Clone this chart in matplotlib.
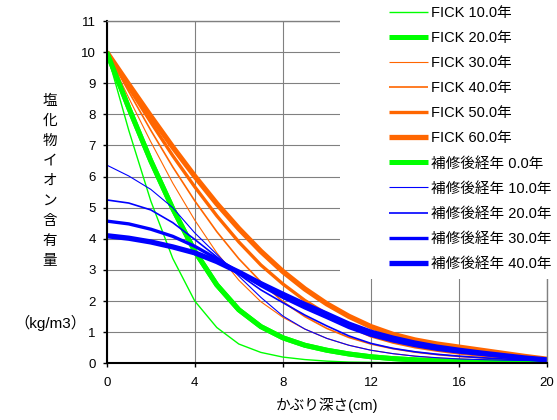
import matplotlib
matplotlib.use("Agg")
import matplotlib.pyplot as plt
from matplotlib.patches import Rectangle

plt.rcParams['font.family'] = ['Liberation Sans', 'Noto Sans CJK JP']

# depth (cm)
depth = list(range(21))

# FICK profiles
fick_10 = [10.0, 7.49, 5.22, 3.37, 2.00, 1.15, 0.62, 0.35, 0.20, 0.12, 0.07,
           0.04, 0.03, 0.02, 0.01, 0.01, 0.01, 0.0, 0.0, 0.0, 0.0]
fick_20 = [10.0, 8.21, 6.51, 4.97, 3.60, 2.52, 1.72, 1.18, 0.82, 0.58, 0.42,
           0.30, 0.21, 0.15, 0.11, 0.08, 0.06, 0.05, 0.04, 0.03, 0.03]
fick_30 = [10.0, 8.53, 7.12, 5.79, 4.60, 3.55, 2.67, 1.98, 1.48, 1.10, 0.80,
           0.58, 0.42, 0.31, 0.23, 0.17, 0.14, 0.11, 0.09, 0.07, 0.06]
fick_40 = [10.0, 8.73, 7.49, 6.31, 5.22, 4.23, 3.36, 2.62, 1.98, 1.50, 1.12,
           0.83, 0.62, 0.47, 0.36, 0.28, 0.22, 0.18, 0.14, 0.11, 0.09]
fick_50 = [10.0, 8.86, 7.75, 6.67, 5.67, 4.74, 3.90, 3.16, 2.55, 2.02, 1.58,
           1.20, 0.88, 0.68, 0.53, 0.42, 0.33, 0.26, 0.20, 0.15, 0.11]
fick_60 = [10.0, 8.96, 7.94, 6.95, 6.01, 5.13, 4.33, 3.60, 2.95, 2.39, 1.91,
           1.51, 1.18, 0.93, 0.75, 0.62, 0.52, 0.42, 0.32, 0.22, 0.13]

# after repair (years)
rep_0 = fick_20
rep_10 = [6.37, 6.02, 5.59, 5.00, 4.19, 3.50, 2.80, 2.12, 1.52, 1.10, 0.80,
          0.58, 0.42, 0.31, 0.23, 0.18, 0.14, 0.12, 0.10, 0.09, 0.08]
rep_20 = [5.25, 5.15, 4.93, 4.52, 3.98, 3.42, 2.86, 2.36, 1.95, 1.55, 1.20,
          0.88, 0.64, 0.48, 0.37, 0.29, 0.23, 0.18, 0.14, 0.11, 0.09]
rep_30 = [4.57, 4.48, 4.31, 4.08, 3.76, 3.36, 2.92, 2.50, 2.12, 1.78, 1.47,
          1.15, 0.90, 0.72, 0.57, 0.45, 0.36, 0.29, 0.22, 0.15, 0.10]
rep_40 = [4.10, 4.02, 3.90, 3.74, 3.55, 3.27, 2.93, 2.56, 2.22, 1.89, 1.58,
          1.26, 1.00, 0.81, 0.65, 0.52, 0.42, 0.33, 0.25, 0.17, 0.11]

GREEN = "#00ff00"
ORANGE = "#ff6600"
BLUE = "#0000ff"

series = [
    ("FICK 10.0年", fick_10, GREEN, 1.0),
    ("FICK 20.0年", fick_20, GREEN, 3.6),
    ("FICK 30.0年", fick_30, ORANGE, 0.8),
    ("FICK 40.0年", fick_40, ORANGE, 1.2),
    ("FICK 50.0年", fick_50, ORANGE, 2.4),
    ("FICK 60.0年", fick_60, ORANGE, 3.8),
    ("補修後経年 0.0年", rep_0, GREEN, 3.6),
    ("補修後経年 10.0年", rep_10, BLUE, 0.8),
    ("補修後経年 20.0年", rep_20, BLUE, 1.2),
    ("補修後経年 30.0年", rep_30, BLUE, 2.4),
    ("補修後経年 40.0年", rep_40, BLUE, 3.8),
]

fig = plt.figure(figsize=(5.57, 4.2), dpi=100)
ax = fig.add_axes([0.1916, 0.135, 0.7905, 0.815])

for label, vals, color, lw in series:
    ax.plot(depth, vals, color=color, linewidth=lw, label=label,
            solid_capstyle="butt")

ax.set_xlim(0, 20)
ax.set_ylim(0, 11)
ax.set_xticks(range(0, 21, 4))
ax.set_yticks(range(0, 12))
ax.grid(True, color="#808080", linewidth=0.8)
ax.set_axisbelow(True)
ax.tick_params(labelsize=9.5, length=3, width=1, colors="black")
ax.tick_params(axis="y", pad=5)
ax.tick_params(axis="x", pad=7)
for s in ["left", "bottom"]:
    ax.spines[s].set_linewidth(1.5)
    ax.spines[s].set_color("black")
for s in ["top", "right"]:
    ax.spines[s].set_linewidth(1.0)
    ax.spines[s].set_color("#808080")

ax.set_xlabel("かぶり深さ(cm)", fontsize=10.5, labelpad=6)

# vertical y label, one character per line
fig.text(50 / 557, 1 - 181 / 420, "\n".join("塩化物イオン含有量"),
         ha="center", va="center", fontsize=10.5, linespacing=1.55)
fig.text(50 / 557, 1 - 323 / 420, "（kg/m3）", ha="center", va="center",
         fontsize=11)

# white area behind the legend
fig.patches.append(Rectangle((340 / 557, 1 - 279 / 420), 217 / 557, 279 / 420,
                             transform=fig.transFigure, facecolor="white",
                             edgecolor="none", zorder=2))

handles, labels = ax.get_legend_handles_labels()
leg = fig.legend(handles, labels, loc="upper left",
                 bbox_to_anchor=(389 / 557, 1 - 6 / 420), frameon=False,
                 fontsize=10.5, handlelength=2.65, handletextpad=0.25,
                 labelspacing=0.76, borderpad=0, borderaxespad=0)
leg.set_zorder(3)

fig.savefig("out.png", dpi=100)
